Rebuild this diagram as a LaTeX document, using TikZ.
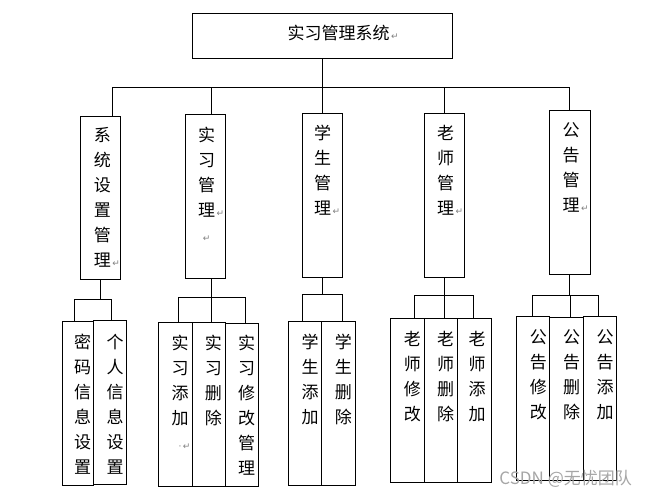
\documentclass[tikz,border=0pt]{standalone}
\usepackage{fontspec}
\newfontfamily\cjk{Noto Sans CJK SC}
\newfontfamily\symf{DejaVu Sans}
\usetikzlibrary{positioning}
\newcommand\ret{\rlap{\symf\fontsize{9}{9}\selectfont\color{gray}\,↵}}
\newcommand\retc{\makebox[0pt][c]{\symf\fontsize{9}{9}\selectfont\color{gray}↵}}
\tikzset{
  box/.style={draw,line width=0.9pt,fill=white,inner sep=0pt},
  vtxt/.style={align=center,inner sep=0pt,anchor=base,font=\cjk\fontsize{17}{25}\selectfont},
}

\begin{document}
\begin{tikzpicture}[x=1pt,y=-1pt,line width=0.9pt]
\useasboundingbox (0,0) rectangle (651,496);

\node[box,minimum width=260pt,minimum height=45pt] (top) at (322,35.5) {};
\node[vtxt] (t-top) at (338.5,39.5) {实习管理系统\ret};

\node[box,minimum width=40pt,minimum height=163pt] (sys) at (100.5,197.5) {};
\node[box,minimum width=40pt,minimum height=164pt] (shix) at (205.5,196) {};
\node[box,minimum width=40pt,minimum height=164pt] (xs) at (322.5,195) {};
\node[box,minimum width=40pt,minimum height=164pt] (ls) at (444.3,195) {};
\node[box,minimum width=41pt,minimum height=164pt] (gg) at (569.8,192.3) {};

% base = baseline of the last line
\node[vtxt] (t-sys) at (102.3,266.5) {系\\统\\设\\置\\管\\理\ret};
\node[vtxt] (t-shix) at (206.7,241.5) {实\\习\\管\\理\ret\\\retc};
\node[vtxt] (t-xs) at (322.7,214.8) {学\\生\\管\\理\ret};
\node[vtxt] (t-ls) at (445.7,214.8) {老\\师\\管\\理\ret};
\node[vtxt] (t-gg) at (571,211.5) {公\\告\\管\\理\ret};

\foreach \n/\x/\y/\w/\h in {mm/77.8/403.2/31/163.7, gr/110/402.2/32.6/163.7,
    tj/175.5/404.2/34.4/163.7, sc/208.85/404.2/32.3/163.7, xg/241.85/404.7/33.7/162.7,
    xt/304.8/403.2/33/163.7, xd/338.3/403.2/34/163.7,
    lx/407.3/400.3/34/164, lsc/440.8/400.3/33/164, lt/474.3/400.3/34/164,
    gx/532.8/398/33/164, gs/566.5/398.85/34.4/162.3, gt/600.2/398/33/164}
  \node[box,minimum width=\w pt,minimum height=\h pt] (\n) at (\x,\y) {};

\node[vtxt] (t-mm) at (82.7,473.2) {密\\码\\信\\息\\设\\置};
\node[vtxt] (t-gr) at (115,473.2) {个\\人\\信\\息\\设\\置};
\node[vtxt] (t-tj) at (180,449.5) {实\\习\\添\\加\\{\symf\fontsize{9}{9}\selectfont\color{gray}·}\ret};
\node[vtxt] (t-sc) at (213.3,424.5) {实\\习\\删\\除};
\node[vtxt] (t-xg) at (246.7,474.5) {实\\习\\修\\改\\管\\理};
\node[vtxt] (t-xt) at (310,423.5) {学\\生\\添\\加};
\node[vtxt] (t-xd) at (343.3,423.5) {学\\生\\删\\除};
\node[vtxt] (t-lx) at (412.3,420.5) {老\\师\\修\\改};
\node[vtxt] (t-lsc) at (445.7,420.5) {老\\师\\删\\除};
\node[vtxt] (t-lt) at (477,420.5) {老\\师\\添\\加};
\node[vtxt] (t-gx) at (538.3,418.2) {公\\告\\修\\改};
\node[vtxt] (t-gs) at (571.7,418.2) {公\\告\\删\\除};
\node[vtxt] (t-gt) at (605,418.2) {公\\告\\添\\加};

\coordinate (bus) at (322,87);
\draw (top.south) -- (bus);
\draw ([xshift=11.5pt]sys.north) |- (bus) -| (gg.north);
\draw ([xshift=6.2pt]shix.north) |- (bus);
\draw (xs.north) |- (bus);
\draw (ls.north) |- (bus);

\draw (sys.south) -- ++(0,20) coordinate (b1);
\draw ([xshift=-3.5pt]mm.north) |- (b1) -| ([xshift=1.3pt]gr.north);

\draw ([xshift=6.2pt]shix.south) -- ++(0,19.3) coordinate (b2);
\draw ([xshift=2.8pt]tj.north) |- (b2) -| ([xshift=3.4pt]xg.north);
\draw ([xshift=2.8pt]sc.north) |- (b2);

\draw (xs.south) -- ++(0,17.3) coordinate (b3);
\draw ([xshift=-2.5pt]xt.north) |- (b3) -| ([xshift=4pt]xd.north);

\draw (ls.south) -- ++(0,18.3) coordinate (b4);
\draw ([xshift=7.4pt]lx.north) |- (b4) -| ([xshift=-1pt]lt.north);
\draw ([xshift=3.5pt]lsc.north) |- (b4);

\draw (gg.south) -- ++(0,21) coordinate (b5);
\draw ([xshift=-0.8pt]gx.north) |- (b5) -| ([xshift=-1.9pt]gt.north);
\draw ([xshift=3.8pt]gs.north) |- (b5);

\node[anchor=base west,inner sep=0pt,text=gray!70,font=\cjk\fontsize{17}{17}\selectfont] (wm) at (499,484) {CSDN @无忧团队};
\end{tikzpicture}
\end{document}
